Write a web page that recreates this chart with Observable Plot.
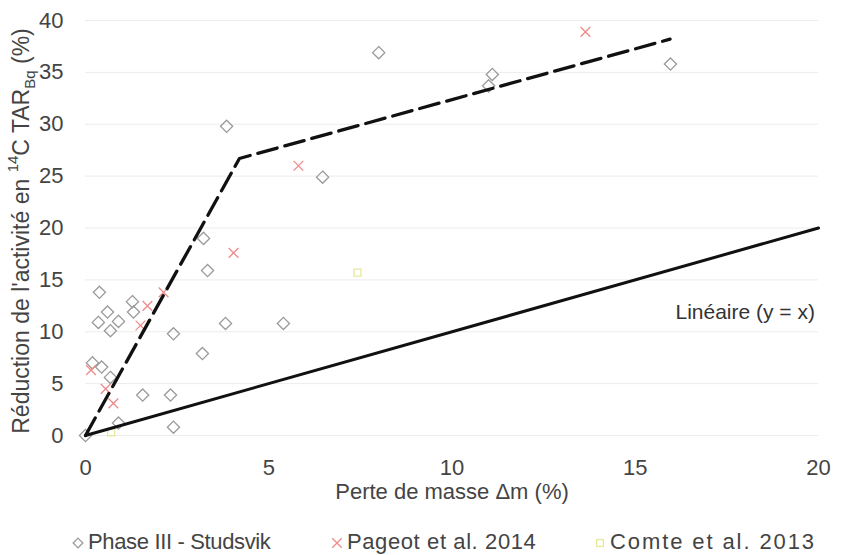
<!DOCTYPE html>
<html>
<head>
<meta charset="utf-8">
<script src="https://cdn.jsdelivr.net/npm/d3@7"></script>
<script src="https://cdn.jsdelivr.net/npm/@observablehq/plot@0.6"></script>
<style>
  html, body { margin: 0; padding: 0; background: #fff; }
  #wrap { position: relative; width: 841px; height: 555px; font-family: "Liberation Sans", Arial, sans-serif; color: #444; }
  #legend { position: absolute; left: 0; top: 529px; width: 841px; height: 26px; font-size: 22px; }
  .item { position: absolute; top: 0; display: flex; align-items: center; white-space: nowrap; }
  .item svg { margin-right: 2px; }
</style>
</head>
<body>
<div id="wrap">
  <div id="chart"></div>
  <div id="legend"></div>
</div>
<script>
// Phase III - Studsvik measurements: mass loss (%) and 14C activity reduction (%)
const phaseX = [0, 0.19, 0.44, 0.68, 0.38, 0.35, 0.60, 0.68, 0.90, 0.90, 1.28, 1.31, 1.56,
                2.32, 2.40, 2.40, 3.19, 3.22, 3.33, 3.82, 3.85, 5.40, 6.47, 8.0, 11.0, 11.1, 15.96];
const phaseY = [0, 7.0, 6.6, 5.6, 13.8, 10.9, 11.9, 10.1, 11.0, 1.2, 12.9, 11.9, 3.9,
                3.9, 0.8, 9.8, 7.9, 19.0, 15.9, 10.8, 29.8, 10.8, 24.9, 36.9, 33.7, 34.8, 35.8];

// Pageot et al. 2014
const pageotX = [0.15, 0.55, 0.76, 1.50, 1.69, 2.13, 4.04, 5.81, 13.64];
const pageotY = [6.3, 4.5, 3.1, 10.6, 12.5, 13.8, 17.6, 26.0, 38.9];

// Comte et al. 2013
const comteX = [0.7, 7.42];
const comteY = [0.3, 15.7];

// Upper envelope (dashed) and the y = x reference line
const envelopeX = [0, 4.2, 15.95];
const envelopeY = [0, 26.7, 38.2];
const linearX = [0, 20];
const linearY = [0, 20];

const xTicks = [0, 5, 10, 15, 20];
const yTicks = [0, 5, 10, 15, 20, 25, 30, 35, 40];

const seriesNames = ["Phase III - Studsvik", "Pageot et al. 2014", "Comte et al. 2013"];
const xLabel = "Perte de masse Δm (%)";
const linearLabel = "Linéaire (y = x)";

const toRows = (xs, ys) => xs.map((x, i) => ({x, y: ys[i]}));
const phase = toRows(phaseX, phaseY);
const pageot = toRows(pageotX, pageotY);
const comte = toRows(comteX, comteY);
const envelope = toRows(envelopeX, envelopeY);
const linear = toRows(linearX, linearY);

const grey = "#9a9a9a", red = "#ee8a8a", yellow = "#e8e89a";

const chart = Plot.plot({
  width: 841,
  height: 527,
  marginLeft: 85,
  marginRight: 23,
  marginTop: 20,
  marginBottom: 92,
  style: {fontFamily: "'Liberation Sans', Arial, sans-serif", fontSize: "22px", color: "#444", background: "#fff", overflow: "visible"},
  x: {domain: [0, 20]},
  y: {domain: [0, 40]},
  marks: [
    Plot.gridY(yTicks, {stroke: "#ececec", strokeOpacity: 1}),
    Plot.axisX({ticks: xTicks, tickSize: 0, tickPadding: 24, label: null, fontSize: 22}),
    Plot.axisY({ticks: yTicks, tickSize: 0, tickPadding: 22, label: null, fontSize: 22}),
    Plot.dot(phase, {x: "x", y: "y", symbol: "diamond2", r: 5.5, stroke: grey, strokeWidth: 1.3}),
    Plot.dot(pageot, {x: "x", y: "y", symbol: "times", r: 4.5, stroke: red, strokeWidth: 1.3}),
    Plot.dot(comte, {x: "x", y: "y", symbol: "square2", r: 4.5, stroke: yellow, strokeWidth: 1.3}),
    Plot.line(linear, {x: "x", y: "y", stroke: "#111", strokeWidth: 3}),
    Plot.line(envelope, {x: "x", y: "y", stroke: "#111", strokeWidth: 3.3, strokeDasharray: "20 8"}),
    Plot.text([linearLabel], {x: 18, y: 11.9, text: d => d, fill: "#333", fontSize: 21}),
    Plot.text([xLabel], {frameAnchor: "bottom", dy: 63, text: d => d, fill: "#444", fontSize: 22})
  ]
});
document.getElementById("chart").appendChild(chart);

// Y-axis title with superscript mass number and subscript unit
const svg = d3.select(chart);
const yt = svg.append("text")
  .attr("transform", "translate(23,231) rotate(-90)")
  .attr("text-anchor", "middle")
  .attr("dominant-baseline", "middle")
  .attr("fill", "#444")
  .style("font-size", "23px");
yt.append("tspan").text("Réduction de l'activité en ");
yt.append("tspan").attr("baseline-shift", "super").style("font-size", "15px").text("14");
yt.append("tspan").text("C TAR");
yt.append("tspan").attr("baseline-shift", "sub").style("font-size", "15px").text("Bq");
yt.append("tspan").text(" (%)");

// Legend below the chart
const legend = d3.select("#legend");
const legendItems = [
  {name: seriesNames[0], symbol: d3.symbolDiamond2, color: grey, left: 70, spacing: -0.35},
  {name: seriesNames[1], symbol: d3.symbolTimes, color: red, left: 329, spacing: 0.6},
  {name: seriesNames[2], symbol: d3.symbolSquare2, color: yellow, left: 592, spacing: 1.9}
];
for (const it of legendItems) {
  const div = legend.append("div").attr("class", "item").style("left", it.left + "px");
  const s = div.append("svg").attr("width", 16).attr("height", 16);
  s.append("path")
    .attr("transform", "translate(8,9)")
    .attr("d", d3.symbol(it.symbol, 60)())
    .attr("fill", "none")
    .attr("stroke", it.color)
    .attr("stroke-width", 1.3);
  div.append("span").style("letter-spacing", it.spacing + "px").text(it.name);
}
</script>
</body>
</html>
